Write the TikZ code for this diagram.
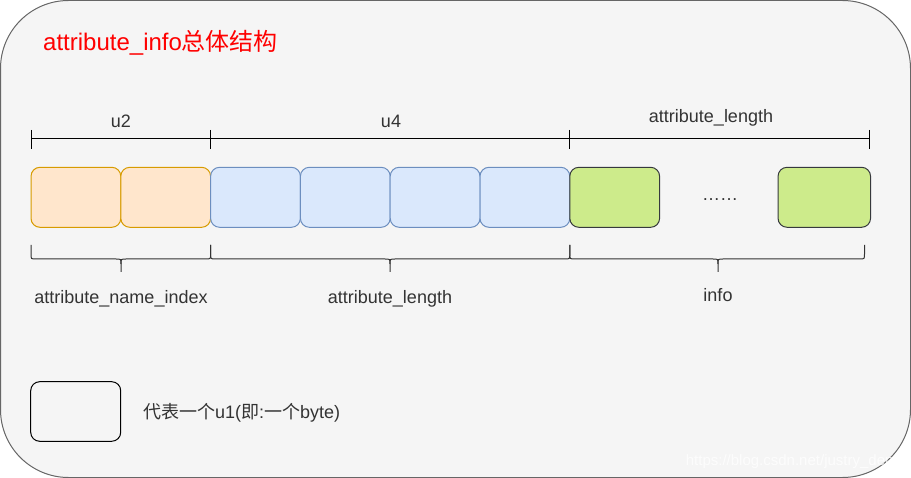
\documentclass[tikz,border=0pt]{standalone}
\usepackage{fontspec}
\setmainfont{Liberation Sans}
\newfontfamily\cjk{Noto Sans CJK SC}
\definecolor{bgfill}{HTML}{F5F5F5}
\definecolor{bgline}{HTML}{666666}
\definecolor{ofill}{HTML}{FFE6CC}
\definecolor{oline}{HTML}{D79B00}
\definecolor{bfill}{HTML}{DAE8FC}
\definecolor{bline}{HTML}{6C8EBF}
\definecolor{gfill}{HTML}{CDEB8B}
\definecolor{gline}{HTML}{36393D}
\definecolor{txt}{HTML}{333333}
\definecolor{titlered}{HTML}{FF0000}
\tikzset{
  cell/.style={rectangle, rounded corners=9pt, line width=1pt, minimum height=60pt, inner sep=0pt, outer sep=0pt},
  obox/.style={cell, fill=ofill, draw=oline, minimum width=89.8pt},
  bbox/.style={cell, fill=bfill, draw=bline, minimum width=89.8pt},
  gbox/.style={cell, fill=gfill, draw=gline},
  lbl/.style={font=\fontsize{18}{22}\selectfont, text=txt, inner sep=0pt},
  dimline/.style={draw=black, line width=1pt},
  bracestyle/.style={draw=txt, line width=1pt},
}
\newcommand\mybrace[3]{%
  \draw[bracestyle] (#1,245) -- (#1,254) .. controls (#1,259) .. (#1+5,259) -- (#2-5,259) .. controls (#2,259) .. (#2,264) -- (#2,272);
  \draw[bracestyle] (#2,264) .. controls (#2,259) .. (#2+5,259) -- (#3-5,259) .. controls (#3,259) .. (#3,254) -- (#3,245);
}
\begin{document}
\begin{tikzpicture}[x=1pt,y=-1pt]
\useasboundingbox (0,0) rectangle (911,478);
% background panel
\draw[fill=bgfill, draw=bgline, line width=1pt, rounded corners=68pt] (0.5,0.5) rectangle (910.5,477.5);
% title
\node[anchor=base west, inner sep=0pt, text=titlered, font=\fontsize{24}{28}\selectfont] (title) at (43,51) {attribute\_info{\cjk 总体结构}};
% dimension lines
\coordinate (d1) at (31,139);
\coordinate (d2) at (210.6,139);
\coordinate (d3) at (569.8,139);
\coordinate (d4) at (869,139);
\draw[dimline] (d1) -- (d4);
\foreach \p in {d1,d2,d3,d4} { \draw[dimline] (\p) ++(0,-9) -- ++(0,19); }
\node[lbl, anchor=base] (lu2) at (121,128) {u2};
\node[lbl, anchor=base] (lu4) at (391,128) {u4};
\node[lbl, anchor=base] (lal) at (711,123) {attribute\_length};
% cells
\node[obox] (c1) at (75.9,197.3) {};
\node[obox] (c2) at (165.7,197.3) {};
\node[bbox] (c3) at (255.5,197.3) {};
\node[bbox] (c4) at (345.3,197.3) {};
\node[bbox] (c5) at (435.1,197.3) {};
\node[bbox] (c6) at (524.9,197.3) {};
\node[gbox, minimum width=89.8pt] (c7) at (614.7,197.3) {};
\node[gbox, minimum width=92.5pt] (c8) at (824.3,197.3) {};
\node[lbl, anchor=base] (dots) at (720,201) {……};
% braces
\mybrace{31}{121}{210.6}
\mybrace{210.6}{390}{569.8}
\mybrace{569.8}{718}{864.5}
\node[lbl, anchor=base] (lani) at (121,304) {attribute\_name\_index};
\node[lbl, anchor=base] (lal2) at (390,304) {attribute\_length};
\node[lbl, anchor=base] (linfo) at (718,302) {info};
% legend
\node[cell, draw=black, minimum width=90pt, minimum height=59.6pt] (leg) at (75.7,411.5) {};
\node[lbl, anchor=base west] (legt) at (143,418) {{\cjk 代表一个}u1({\cjk 即}:{\cjk 一个}byte)};
% watermark
\node[anchor=base east, inner sep=0pt, text=white, opacity=0.75, font=\fontsize{15}{18}\selectfont] (wm) at (902,465) {https://blog.csdn.net/justry\_deng};
\end{tikzpicture}
\end{document}
